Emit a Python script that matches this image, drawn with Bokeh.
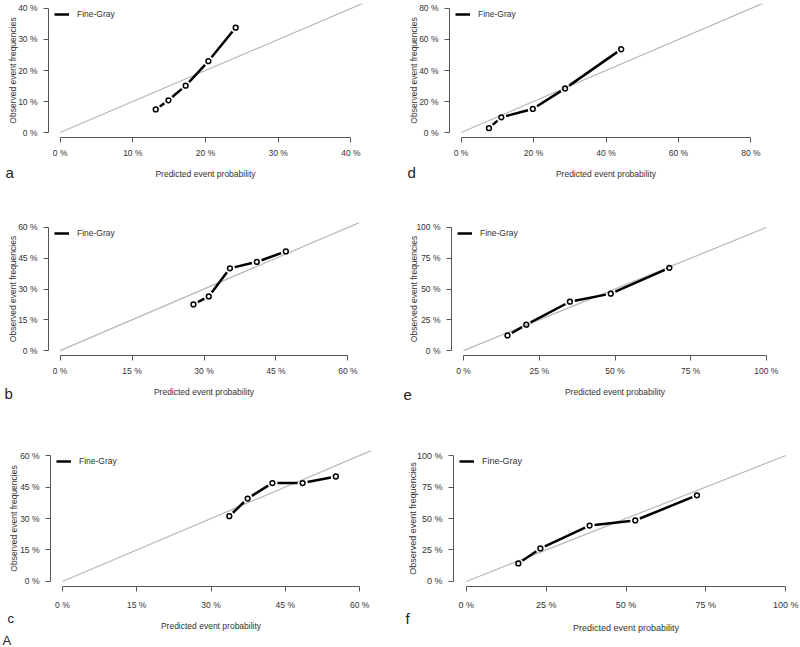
import math
from bokeh.plotting import figure
from bokeh.layouts import column, row
from bokeh.models import Range1d, FixedTicker, Legend, LegendItem, Title
from bokeh.embed import file_html
from bokeh.resources import INLINE

# ---------------- data ----------------
a_pred = [0.1315, 0.149, 0.1727, 0.204, 0.2415]
a_obs = [0.0745, 0.104, 0.151, 0.230, 0.338]

d_pred = [0.077, 0.111, 0.198, 0.287, 0.442]
d_obs = [0.028, 0.098, 0.152, 0.284, 0.537]

b_pred = [0.278, 0.310, 0.354, 0.410, 0.4705]
b_obs = [0.225, 0.264, 0.401, 0.432, 0.483]

e_pred = [0.145, 0.207, 0.351, 0.486, 0.6795]
e_obs = [0.123, 0.210, 0.397, 0.462, 0.672]

c_pred = [0.337, 0.374, 0.424, 0.485, 0.552]
c_obs = [0.311, 0.395, 0.469, 0.469, 0.500]

f_pred = [0.163, 0.232, 0.386, 0.529, 0.722]
f_obs = [0.143, 0.262, 0.444, 0.485, 0.684]

ticks_40 = [0, 0.1, 0.2, 0.3, 0.4]
labels_40 = ["0 %", "10 %", "20 %", "30 %", "40 %"]
ticks_60 = [0, 0.15, 0.30, 0.45, 0.60]
labels_60 = ["0 %", "15 %", "30 %", "45 %", "60 %"]
ticks_80 = [0, 0.2, 0.4, 0.6, 0.8]
labels_80 = ["0 %", "20 %", "40 %", "60 %", "80 %"]
ticks_100 = [0, 0.25, 0.5, 0.75, 1.0]
labels_100 = ["0 %", "25 %", "50 %", "75 %", "100 %"]

diag = [0, 1]
series_name = "Fine-Gray"
x_title = "Predicted event probability"
y_title = "Observed event frequencies"

FONT = "Liberation Sans"
TEXT = "#333333"
AXIS = "#555555"
LETTER = "#222222"


def below_title(p, text, size, align, offset, valign, standoff, color):
    t = Title(text=text, align=align, offset=offset, vertical_align=valign,
              standoff=standoff, text_font=FONT, text_font_size=size,
              text_font_style="normal", text_color=color)
    p.add_layout(t, "below")


def make_panel(pred, obs, ticks, tick_labels, letter, sp):
    lim = ticks[-1]
    ext = 0.04 * lim
    fw, fh = sp["fw"], sp["fh"]
    p = figure(width=sp["l"] + fw + sp["r"], height=sp["t"] + fh + sp["b"],
               x_range=Range1d(-ext, lim + ext), y_range=Range1d(-ext, lim + ext),
               min_border_left=sp["l"], min_border_right=sp["r"],
               min_border_top=sp["t"], min_border_bottom=sp["b"],
               output_backend="svg", toolbar_location=None)
    p.outline_line_color = None
    p.grid.visible = False
    p.background_fill_color = "white"
    p.border_fill_color = "white"
    fs = sp.get("fs", 8.5)
    labels = {t: s for t, s in zip(ticks, tick_labels)}
    for ax in (p.xaxis[0], p.yaxis[0]):
        ax.ticker = FixedTicker(ticks=ticks)
        ax.major_label_overrides = labels
        ax.bounds = (0, lim)
        ax.axis_line_color = AXIS
        ax.major_tick_line_color = AXIS
        ax.minor_tick_line_color = None
        ax.major_tick_out = 5
        ax.major_tick_in = 0
        ax.major_label_text_font = FONT
        ax.major_label_text_font_size = f"{fs}px"
        ax.major_label_text_color = TEXT
        ax.axis_label_text_font = FONT
        ax.axis_label_text_font_size = f"{fs}px"
        ax.axis_label_text_font_style = "normal"
        ax.axis_label_text_color = TEXT
    p.xaxis[0].major_label_standoff = sp.get("xs", 5)
    p.yaxis[0].axis_label = y_title
    p.yaxis[0].major_label_standoff = 6
    p.yaxis[0].axis_label_standoff = sp.get("ys", 0)
    p.yaxis[0].major_label_orientation = "horizontal"

    # x-axis title and panel letter (side-panel titles: never clipped)
    ltext = letter + "\n" * sp.get("pad", 0)
    if sp["mode"] == "axis":
        p.xaxis[0].axis_label = x_title
        p.xaxis[0].axis_label_standoff = 8
        below_title(p, ltext, sp["lfs"], "left", sp["lx"], "top", sp["ls"], LETTER)
    else:
        below_title(p, ltext, sp["lfs"], "left", sp["lx"], "top", sp["ls"], LETTER)
        below_title(p, x_title, f"{fs}px", "center", 0, "top", sp["ts"], TEXT)

    # reference diagonal
    p.line(diag, diag, line_color="#b8b8b8", line_width=1.2)

    # R type="b": segments with gaps around the points
    sx = fw / (lim + 2 * ext)
    sy = fh / (lim + 2 * ext)
    gap = 5.0
    x0s, y0s, x1s, y1s = [], [], [], []
    for i in range(len(pred) - 1):
        dxd = pred[i + 1] - pred[i]
        dyd = obs[i + 1] - obs[i]
        L = math.hypot(dxd * sx, dyd * sy)
        if L <= 2 * gap:
            continue
        f = gap / L
        x0s.append(pred[i] + dxd * f)
        y0s.append(obs[i] + dyd * f)
        x1s.append(pred[i + 1] - dxd * f)
        y1s.append(obs[i + 1] - dyd * f)
    seg = p.segment(x0s, y0s, x1s, y1s, line_color="black", line_width=2.5)
    p.scatter(pred, obs, marker="circle", size=4.8, fill_color=None,
              line_color="black", line_width=1.5)

    leg = Legend(items=[LegendItem(label=series_name, renderers=[seg])],
                 location="top_left", margin=6, padding=2, spacing=0,
                 glyph_width=15, glyph_height=8, label_height=8,
                 label_standoff=8, border_line_color=None,
                 background_fill_alpha=0, label_text_font=FONT,
                 label_text_font_size=f"{fs}px", label_text_color=TEXT)
    p.add_layout(leg)
    return p


specs = {
    "a": dict(l=48, fw=314, r=38, t=2, fh=135, b=73, mode="axis",
              lx=-43, ls=-34.6, pad=2, lfs="15px", ys=-3),
    "d": dict(l=49, fw=313, r=38, t=3, fh=135, b=72, mode="axis",
              lx=-42, ls=-35, pad=2, lfs="15px", ys=-3),
    "b": dict(l=48, fw=311, r=41, t=12, fh=133, b=73, mode="axis",
              lx=-44, ls=-29, pad=2, lfs="15px", ys=-3),
    "e": dict(l=51, fw=327, r=22, t=6, fh=140, b=72, mode="axis",
              lx=-48, ls=-19, lfs="15px", ys=-6),
    "c": dict(l=50, fw=321, r=29, t=22, fh=138, b=59, mode="title",
              lx=-43, ls=-3, ts=-12, lfs="13px", ys=-2, xs=8),
    "f": dict(l=53, fw=345, r=2, t=10, fh=148, b=61, mode="title",
              lx=-48, ls=-6, ts=-6, lfs="15px", ys=-4, fs=9, xs=8),
}

pa = make_panel(a_pred, a_obs, ticks_40, labels_40, "a", specs["a"])
pd_ = make_panel(d_pred, d_obs, ticks_80, labels_80, "d", specs["d"])
pb = make_panel(b_pred, b_obs, ticks_60, labels_60, "b", specs["b"])
pe = make_panel(e_pred, e_obs, ticks_100, labels_100, "e", specs["e"])
pc = make_panel(c_pred, c_obs, ticks_60, labels_60, "c", specs["c"])
pf = make_panel(f_pred, f_obs, ticks_100, labels_100, "f", specs["f"])

# figure-part label "A" under panel c
below_title(pc, "\nA", "13px", "left", -48, "top", -17, LETTER)

layout = column(row(pa, pd_), row(pb, pe), row(pc, pf))

open("out.html", "w").write(file_html(layout, INLINE))
